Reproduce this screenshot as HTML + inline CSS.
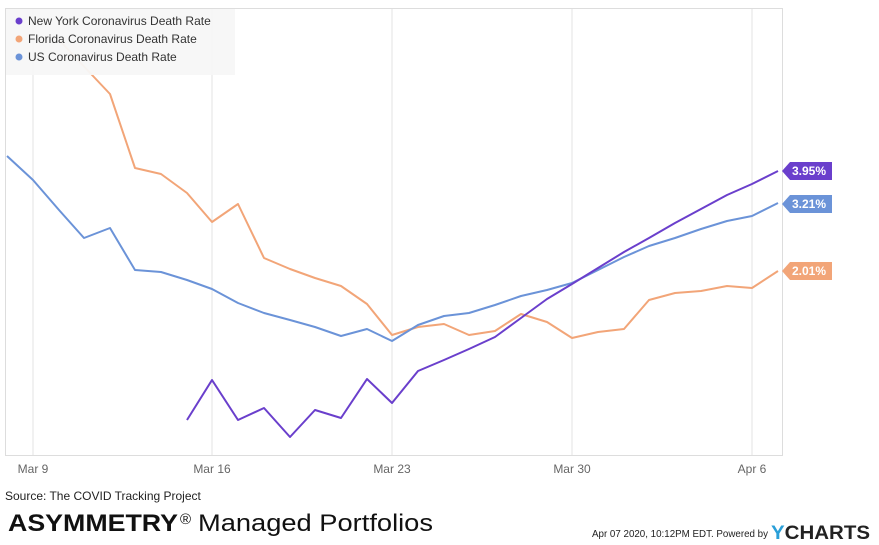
<!DOCTYPE html><html><head><style>body{margin:0;width:879px;height:545px;background:#fff;font-family:"Liberation Sans",sans-serif;overflow:hidden}</style></head><body>
<svg width="879" height="545" style="position:absolute;left:0;top:0">
<g stroke="#e3e3e3" stroke-width="1"><line x1="33" y1="8" x2="33" y2="455"/><line x1="212" y1="8" x2="212" y2="455"/><line x1="392" y1="8" x2="392" y2="455"/><line x1="572" y1="8" x2="572" y2="455"/><line x1="752" y1="8" x2="752" y2="455"/></g>
<rect x="5.5" y="8.5" width="777" height="447" fill="none" stroke="#ddd"/>
<g fill="none" stroke-width="2" stroke-linejoin="round">
<polyline stroke="#f2a578" points="59,40 110,94 135,168 161,174 187,193 212,222 238,204 264,258 290,269 315,278 341,286 367,304 392,335 418,327 444,324 469,335 495,331 521,314 547,322 572,338 598,332 624,329 649,300 675,293 701,291 727,286 752,288 778,271"/>
<polyline stroke="#6b93d8" points="7,156 33,180 59,210 84,238 110,228 135,270 161,272 187,280 212,289 238,303 264,313 290,320 315,327 341,336 367,329 392,341 418,325 444,316 469,313 495,305 521,296 547,290 572,283 598,270 624,257 649,246 675,238 701,229 727,221 752,216 778,203"/>
<polyline stroke="#6a3fcc" points="187,420 212,380 238,420 264,408 290,437 315,410 341,418 367,379 392,403 418,371 444,360 469,349 495,337 521,318 547,299 572,284 598,268 624,252 649,238 675,223 701,209 727,195 752,184 778,171"/>
</g>
<rect x="6" y="9" width="229" height="66" fill="#f7f7f7" opacity="0.95"/>
<circle cx="19" cy="21" r="3.5" fill="#6a3fcc"/><circle cx="19" cy="39" r="3.5" fill="#f2a578"/><circle cx="19" cy="57" r="3.5" fill="#6b93d8"/>
<g font-size="12" fill="#333"><text x="28" y="25">New York Coronavirus Death Rate</text><text x="28" y="43">Florida Coronavirus Death Rate</text><text x="28" y="61">US Coronavirus Death Rate</text></g>
<g font-size="12" font-weight="bold" fill="#fff">
<path d="M782,171 l8,-9 h42 v18 h-42z" fill="#6a3fcc"/><text x="792" y="175">3.95%</text>
<path d="M782,204 l8,-9 h42 v18 h-42z" fill="#6b93d8"/><text x="792" y="208">3.21%</text>
<path d="M782,271 l8,-9 h42 v18 h-42z" fill="#f2a578"/><text x="792" y="275">2.01%</text></g>
<g font-size="12" fill="#666" text-anchor="middle"><text x="33" y="473">Mar 9</text><text x="212" y="473">Mar 16</text><text x="392" y="473">Mar 23</text><text x="572" y="473">Mar 30</text><text x="752" y="473">Apr 6</text></g>
<text x="5" y="500" font-size="12" fill="#222">Source: The COVID Tracking Project</text>
<text x="8" y="531" font-size="24" font-weight="bold" fill="#111" textLength="170" lengthAdjust="spacingAndGlyphs">ASYMMETRY</text>
<text x="180" y="524" font-size="15" fill="#111">®</text>
<text x="198" y="531" font-size="24" fill="#111" textLength="235" lengthAdjust="spacingAndGlyphs">Managed Portfolios</text>
<text x="592" y="537" font-size="10" fill="#222" textLength="176" lengthAdjust="spacingAndGlyphs">Apr 07 2020, 10:12PM EDT.  Powered by</text>
<text x="771" y="539" font-size="19" font-weight="bold" fill="#222" textLength="99" lengthAdjust="spacingAndGlyphs"><tspan fill="#2a9fd8">Y</tspan>CHARTS</text>
</svg></body></html>
